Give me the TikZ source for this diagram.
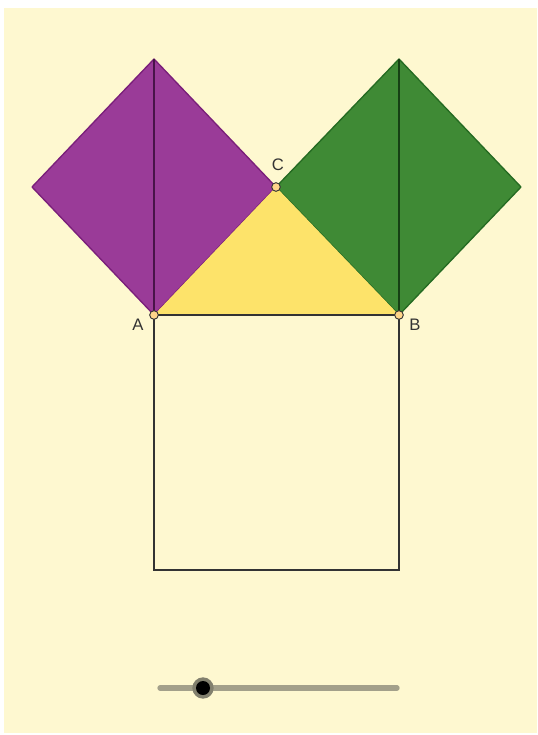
\documentclass[tikz,border=0pt]{standalone}
\usepackage{fontspec}
\setmainfont{Liberation Sans}
\begin{document}
\begin{tikzpicture}[x=0.75pt,y=-0.75pt,
  bgfill/.style={fill=bgc,draw=none},
  purp/.style={fill=purpc,draw=purpe,line width=1pt,line join=round},
  gren/.style={fill=grenc,draw=grene,line width=1pt,line join=round},
  tri/.style={fill=yelc,draw=none},
  edge/.style={draw=edgec,line width=1.1pt},
  pt/.style={circle,fill=ptc,draw=edgec,line width=0.7pt,inner sep=0pt,minimum size=6.5pt},
  lab/.style={text=labc,font=\fontsize{12.5}{14}\selectfont,inner sep=0pt}]
\definecolor{bgc}{HTML}{FEF8D0}
\definecolor{purpc}{HTML}{9A3B98}
\definecolor{purpe}{HTML}{7A1F7A}
\definecolor{grenc}{HTML}{3F8A35}
\definecolor{grene}{HTML}{256B22}
\definecolor{yelc}{HTML}{FDE36A}
\definecolor{edgec}{HTML}{333333}
\definecolor{ptc}{HTML}{FFD58A}
\definecolor{labc}{HTML}{333333}
\definecolor{slc}{HTML}{A3A08A}
\useasboundingbox (0,0) rectangle (537,735);
\fill[white] (0,0) rectangle (537,735);
\path[bgfill] (4,8) rectangle (537,733);
% coordinates
\coordinate (A) at (154,315);
\coordinate (B) at (399,315);
\coordinate (C) at (276,187);
\coordinate (P1) at (154,59);
\coordinate (P2) at (32,187);
\coordinate (G1) at (399,59);
\coordinate (G2) at (521,187);
\coordinate (S1) at (399,570);
\coordinate (S2) at (154,570);
% squares on legs
\path[purp] (A) -- (C) -- (P1) -- (P2) -- cycle;
\path[gren] (B) -- (C) -- (G1) -- (G2) -- cycle;
\draw[draw=purpe!60!black,line width=1pt] (P1) -- (A);
\draw[draw=grene!60!black,line width=1pt] (G1) -- (B);
% triangle
\path[tri] (A) -- (B) -- (C) -- cycle;
\draw[edge] (A) -- (B);
% square on hypotenuse
\draw[edge] (A) -- (S2) -- (S1) -- (B);
% points
\node[pt] (nA) at (A) {};
\node[pt] (nB) at (B) {};
\node[pt] (nC) at (C) {};
\node[lab] (lA) at (138,325) {A};
\node[lab] (lB) at (415,325) {B};
\node[lab] (lC) at (278,165) {C};
% slider
\coordinate (L1) at (160,688);
\coordinate (L2) at (397,688);
\draw[slc,line width=4pt,line cap=round] (L1) -- (L2);
\node[circle,fill=slc!80!black,inner sep=0pt,minimum size=16pt] (knobhalo) at (203,688) {};
\node[circle,fill=black,inner sep=0pt,minimum size=10.5pt] (knob) at (203,688) {};
\end{tikzpicture}
\end{document}
